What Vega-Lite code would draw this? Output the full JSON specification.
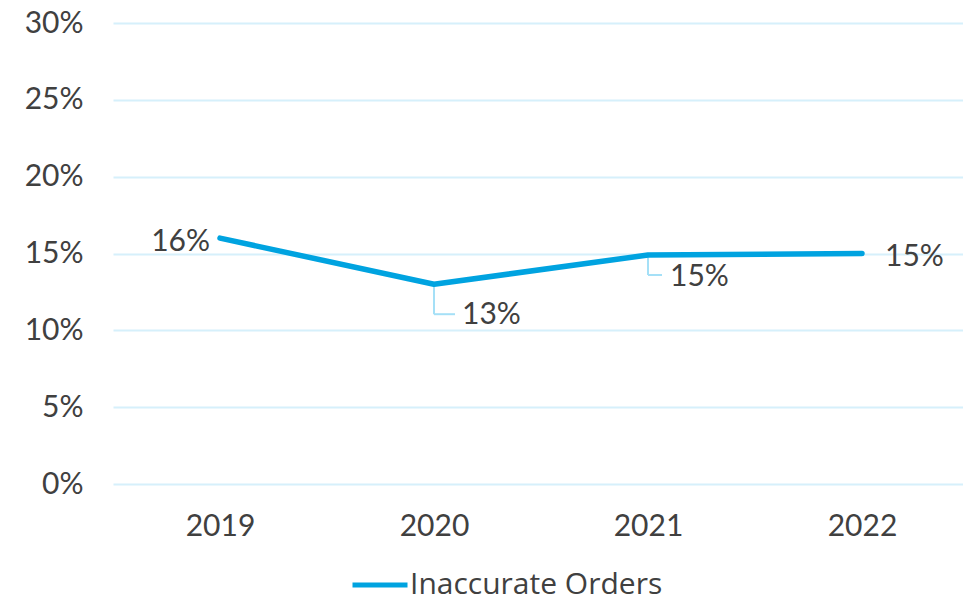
{
  "$schema": "https://vega.github.io/schema/vega-lite/v6.json",
  "autosize": "none",
  "width": 856,
  "height": 461,
  "padding": {"left": 113, "top": 23, "right": 0, "bottom": 119},
  "background": "white",
  "config": {
    "view": {"stroke": null},
    "font": "Lato",
    "axis": {"labelFont": "Lato", "labelFontSize": 30, "labelColor": "#404040", "domain": false, "ticks": false}
  },
  "data": {
    "values": [
      {"year": "2019", "value": 16, "label": "16%", "series": "Inaccurate Orders"},
      {"year": "2020", "value": 13, "label": "13%", "series": "Inaccurate Orders"},
      {"year": "2021", "value": 14.9, "label": "15%", "series": "Inaccurate Orders"},
      {"year": "2022", "value": 15, "label": "15%", "series": "Inaccurate Orders"}
    ]
  },
  "encoding": {
    "x": {"field": "year", "type": "ordinal", "scale": {"type": "point", "padding": 0.5},
      "axis": {"title": null, "labelAngle": 0, "labelPadding": 27, "grid": false}},
    "y": {"field": "value", "type": "quantitative", "scale": {"domain": [0, 30]},
      "axis": {"title": null, "values": [0, 5, 10, 15, 20, 25, 30], "labelExpr": "datum.value + '%'", "labelPadding": 30, "grid": true, "gridColor": "#d6f0fb", "gridWidth": 2}}
  },
  "layer": [
    {
      "transform": [{"filter": "datum.year == '2020'"}],
      "mark": {"type": "rule", "color": "#a5e0f7", "strokeWidth": 2},
      "encoding": {"y2": {"datum": 11.05}}
    },
    {
      "transform": [{"filter": "datum.year == '2020'"}],
      "mark": {"type": "rule", "color": "#a5e0f7", "strokeWidth": 2, "x2Offset": 21},
      "encoding": {"x2": {"field": "year"}, "y": {"datum": 11.05}}
    },
    {
      "transform": [{"filter": "datum.year == '2021'"}],
      "mark": {"type": "rule", "color": "#a5e0f7", "strokeWidth": 2},
      "encoding": {"y2": {"datum": 13.6}}
    },
    {
      "transform": [{"filter": "datum.year == '2021'"}],
      "mark": {"type": "rule", "color": "#a5e0f7", "strokeWidth": 2, "x2Offset": 14},
      "encoding": {"x2": {"field": "year"}, "y": {"datum": 13.6}}
    },
    {
      "mark": {"type": "line", "strokeWidth": 5.5, "strokeCap": "round", "strokeJoin": "round"},
      "encoding": {
        "color": {"field": "series", "type": "nominal", "scale": {"range": ["#00a3e0"]},
          "legend": {"title": null, "orient": "none", "legendX": 237, "legendY": 532, "symbolType": "stroke", "symbolSize": 3025, "symbolStrokeWidth": 5, "labelFont": "Open Sans", "labelFontSize": 30, "labelColor": "#404040", "labelOffset": 0, "labelLimit": 500}}
      }
    },
    {
      "transform": [{"filter": "datum.year == '2019'"}],
      "mark": {"type": "text", "font": "Lato", "fontSize": 30, "color": "#404040", "align": "right", "baseline": "middle", "dx": -10, "dy": 4},
      "encoding": {"text": {"field": "label"}}
    },
    {
      "transform": [{"filter": "datum.year == '2020'"}],
      "mark": {"type": "text", "font": "Lato", "fontSize": 30, "color": "#404040", "align": "left", "baseline": "middle", "dx": 28, "dy": 31},
      "encoding": {"text": {"field": "label"}}
    },
    {
      "transform": [{"filter": "datum.year == '2021'"}],
      "mark": {"type": "text", "font": "Lato", "fontSize": 30, "color": "#404040", "align": "left", "baseline": "middle", "dx": 22, "dy": 22},
      "encoding": {"text": {"field": "label"}}
    },
    {
      "transform": [{"filter": "datum.year == '2022'"}],
      "mark": {"type": "text", "font": "Lato", "fontSize": 30, "color": "#404040", "align": "left", "baseline": "middle", "dx": 23, "dy": 3},
      "encoding": {"text": {"field": "label"}}
    }
  ]
}
